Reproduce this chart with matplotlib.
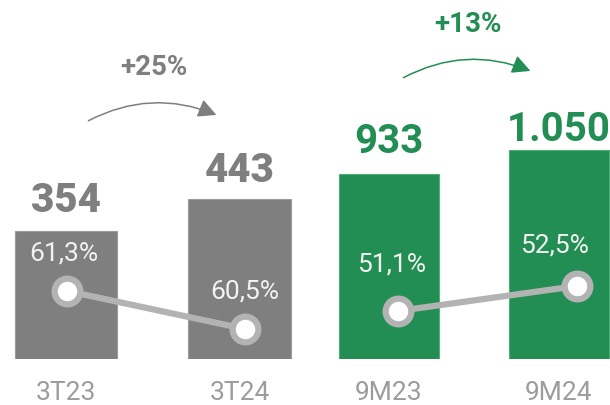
import matplotlib
matplotlib.use("Agg")
import matplotlib.pyplot as plt
from matplotlib.patches import FancyArrowPatch

# ---- data ----
categories_q = ["3T23", "3T24"]
categories_9m = ["9M23", "9M24"]
values_q = [354, 443]
values_9m = [933, 1050]
value_labels_q = ["354", "443"]
value_labels_9m = ["933", "1.050"]
pct_q = [61.3, 60.5]
pct_9m = [51.1, 52.5]
pct_labels_q = ["61,3%", "60,5%"]
pct_labels_9m = ["51,1%", "52,5%"]
growth_q = "+25%"
growth_9m = "+13%"

# ---- style ----
GRAY = "#7f7f7f"
GREEN = "#228e53"
LINE = "#b3b3b3"
LABEL = "#9c9c9c"
W, H = 610, 406
DPI = 100
px = 72.0 / DPI  # points per pixel

plt.rcParams['font.family'] = ['Roboto', 'DejaVu Sans']

fig = plt.figure(figsize=(W / DPI, H / DPI), dpi=DPI)
bottom = 46 / H
height = 360 / H

ax_l = fig.add_axes([0, bottom, 0.5, height])
ax_r = fig.add_axes([0.5, bottom, 0.5, height])
ln_l = fig.add_axes([0, bottom, 0.5, height])
ln_r = fig.add_axes([0.5, bottom, 0.5, height])

ax_l.set_xlim(-0.3804, 1.3775)
ax_r.set_xlim(-0.4941, 1.30)
ax_l.set_ylim(0, 996)
ax_r.set_ylim(0, 1812)
ln_l.set_xlim(-0.3764, 1.337)
ln_r.set_xlim(-0.5196, 1.1844)
ln_l.set_ylim(59.868, 67.447)
ln_r.set_ylim(48.412, 68.572)

for a in (ax_l, ax_r, ln_l, ln_r):
    for s in a.spines.values():
        s.set_visible(False)
    a.patch.set_alpha(0)
    a.set_yticks([])
for a in (ln_l, ln_r):
    a.set_xticks([])

bw = 0.588
xs = [0, 1]
ax_l.bar(xs, values_q, width=bw, color=GRAY, edgecolor="#9a9a9a", linewidth=0.8)
ax_r.bar(xs, values_9m, width=bw, color=GREEN, edgecolor="#4fae78", linewidth=0.8)

for a, labs in ((ax_l, categories_q), (ax_r, categories_9m)):
    a.set_xticks(xs)
    a.set_xticklabels(labs, fontsize=19, color=LABEL, fontweight='normal')
    a.tick_params(axis='x', length=0, pad=15)

# value labels
gaps_q = [20, 18]
gaps_9m = [22, 10]
for x, v, t, g in zip(xs, values_q, value_labels_q, gaps_q):
    ax_l.annotate(t, (x, v), xytext=(0, g * px), textcoords='offset points',
                  ha='center', va='baseline', fontsize=29, fontweight='black',
                  color=GRAY)
for x, v, t, g in zip(xs, values_9m, value_labels_9m, gaps_9m):
    ax_r.annotate(t, (x, v), xytext=(0, g * px), textcoords='offset points',
                  ha='center', va='baseline', fontsize=29, fontweight='bold',
                  color=GREEN)

# margin lines
ms, mew = 18.5, 4.5
for a, p, labs, offs in ((ln_l, pct_q, pct_labels_q, [(-3, 38), (0, 38)]),
                         (ln_r, pct_9m, pct_labels_9m, [(-6.5, 48), (-23, 42)])):
    a.plot(xs, p, color=LINE, linewidth=4.5, marker='o', markersize=ms,
           markerfacecolor='white', markeredgecolor=LINE, markeredgewidth=mew,
           solid_capstyle='butt', zorder=3)
    for x, v, t, (dx, dy) in zip(xs, p, labs, offs):
        a.annotate(t, (x, v), xytext=(dx * px, dy * px), textcoords='offset points',
                   ha='center', va='center', fontsize=19, fontweight='normal',
                   color='#f2f2f2')

# growth arrows
def arrow(p0, p1, color):
    arr = FancyArrowPatch((p0[0] / W, 1 - p0[1] / H), (p1[0] / W, 1 - p1[1] / H),
                          transform=fig.transFigure, connectionstyle="arc3,rad=-0.24",
                          arrowstyle="-|>,head_length=0.55,head_width=0.28",
                          mutation_scale=20, color=color, linewidth=1.1)
    fig.patches.append(arr)

arrow((86, 123), (219, 117), GRAY)
arrow((401, 80), (533, 73), GREEN)
fig.text(154 / W, 1 - 67.5 / H, growth_q, ha='center', va='center', fontsize=20,
         fontweight='bold', color=GRAY)
fig.text(468 / W, 1 - 25 / H, growth_9m, ha='center', va='center', fontsize=20,
         fontweight='bold', color=GREEN)

fig.savefig("out.png", dpi=DPI)
